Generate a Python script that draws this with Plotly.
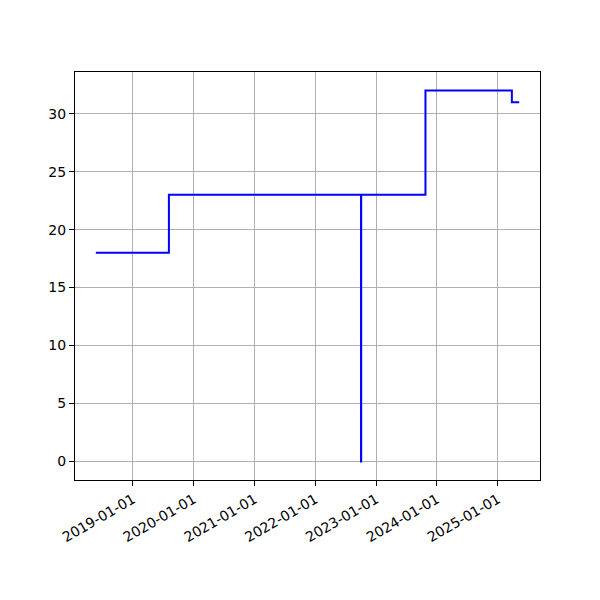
import plotly.graph_objects as go

dates = ["2018-05-23", "2019-08-05", "2022-10-02", "2022-10-03", "2023-10-24", "2025-03-26", "2025-05-09"]
values = [18, 23, 0, 23, 32, 31, 31]
tick_dates = ["2019-01-01", "2020-01-01", "2021-01-01", "2022-01-01", "2023-01-01", "2024-01-01", "2025-01-01"]
y_ticks = [0, 5, 10, 15, 20, 25, 30]

fig = go.Figure()
fig.add_trace(go.Scatter(x=dates, y=values, mode="lines", line_shape="hv",
                         line=dict(color="#0000ff", width=2), showlegend=False))

axis_common = dict(showline=True, linecolor="black", linewidth=1, mirror=True,
                   showgrid=True, gridcolor="#b0b0b0", gridwidth=1,
                   ticks="outside", ticklen=5, tickcolor="black", tickwidth=1,
                   zeroline=False, automargin=False,
                   tickfont=dict(family="DejaVu Sans", size=14, color="black"))

fig.update_layout(
    width=600, height=600,
    margin=dict(l=67, r=68, t=64, b=128),
    paper_bgcolor="white", plot_bgcolor="white",
    xaxis=dict(tickvals=tick_dates, ticktext=tick_dates, tickangle=-30,
               range=["2018-01-18", "2025-09-11"], **axis_common),
    yaxis=dict(tickvals=y_ticks, range=[-1.6, 33.6], **axis_common),
)
fig.write_html("out.html")
